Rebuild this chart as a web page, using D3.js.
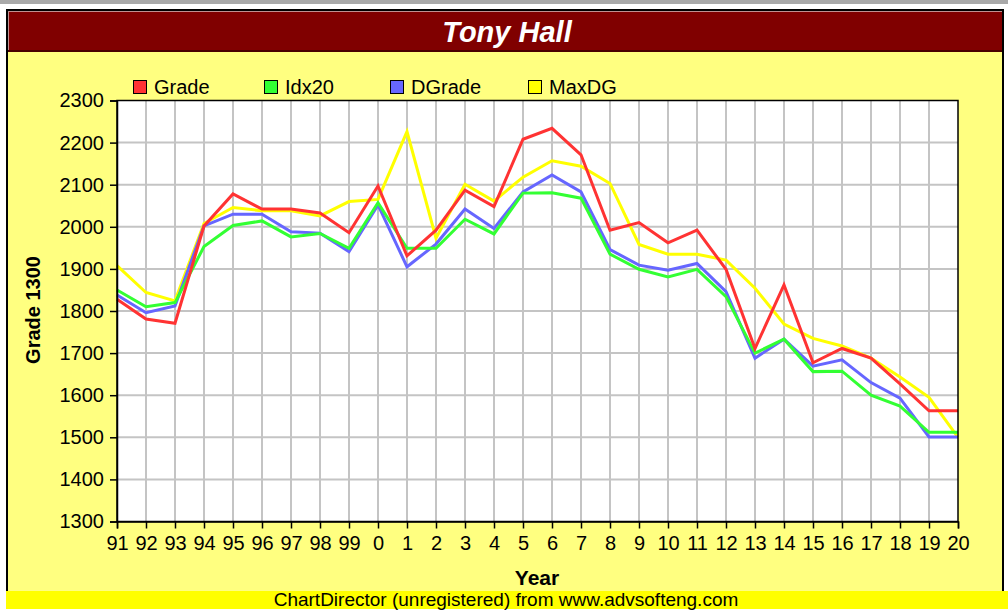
<!DOCTYPE html>
<html>
<head>
<meta charset="utf-8">
<script src="https://cdn.jsdelivr.net/npm/d3@7"></script>
<style>
  body { margin: 0; background: #fff; }
  #chart text { font-family: "Liberation Sans", Arial, sans-serif; }
</style>
</head>
<body>
<div id="chart"></div>
<script>
// data
let years = ['91','92','93','94','95','96','97','98','99','0','1','2','3','4','5','6','7','8','9','10','11','12','13','14','15','16','17','18','19','20'];
let grade  = [1828,1781,1771,2002,2078,2042,2042,2033,1986,2097,1931,1992,2087,2048,2208,2234,2171,1992,2010,1962,1992,1899,1711,1862,1677,1711,1688,1627,1563,1563];
let idx20  = [1850,1810,1820,1953,2003,2014,1976,1984,1949,2057,1949,1949,2018,1983,2080,2081,2068,1935,1899,1881,1899,1834,1700,1733,1656,1657,1600,1574,1512,1512];
let dgrade = [1838,1796,1812,2002,2030,2030,1988,1985,1941,2052,1905,1959,2042,1996,2083,2123,2083,1946,1909,1897,1913,1846,1688,1733,1669,1684,1630,1593,1501,1501];
let maxdg  = [1908,1844,1824,2008,2046,2038,2038,2026,2060,2065,2226,1973,2101,2061,2118,2157,2144,2103,1958,1935,1935,1921,1854,1769,1735,1717,1688,1643,1595,1500];
let seriesNames = ['Grade','Idx20','DGrade','MaxDG'];
let yTicks = [1300,1400,1500,1600,1700,1800,1900,2000,2100,2200,2300];

let colors = ['#ff3333','#33ff33','#6666ff','#ffff00'];
let width = 1008, height = 613;
let plotL = 117, plotR = 958, plotT = 100.5, plotB = 521.5;

function drawChart() {
    let svg = d3.select('#chart').append('svg')
        .attr('width', width)
        .attr('height', height);

    // page frame
    svg.append('rect').attr('x', 0).attr('y', 0).attr('width', width).attr('height', 4).attr('fill', '#a9a9a9');
    svg.append('rect').attr('x', 7).attr('y', 10).attr('width', 996).attr('height', 585)
        .attr('fill', '#ffff80').attr('stroke', '#000').attr('stroke-width', 2);

    // title bar
    svg.append('rect').attr('x', 8).attr('y', 11).attr('width', 994).attr('height', 41).attr('fill', '#800000');
    svg.append('line').attr('x1', 8).attr('x2', 1002).attr('y1', 11.5).attr('y2', 11.5).attr('stroke', '#c09090');
    svg.append('line').attr('x1', 8.5).attr('x2', 8.5).attr('y1', 11).attr('y2', 52).attr('stroke', '#c09090');
    svg.append('line').attr('x1', 8).attr('x2', 1002).attr('y1', 51).attr('y2', 51).attr('stroke', '#4a0000').attr('stroke-width', 2);
    svg.append('text')
        .attr('x', 507).attr('y', 42)
        .attr('text-anchor', 'middle')
        .attr('fill', '#fff')
        .style('font-size', '29px').style('font-weight', 'bold').style('font-style', 'italic')
        .text('Tony Hall');

    let x = d3.scalePoint().domain(years).range([plotL, plotR]);
    let y = d3.scaleLinear().domain([1300, 2300]).range([plotB, plotT]);

    // plot background + grid
    svg.append('rect')
        .attr('x', plotL).attr('y', plotT)
        .attr('width', plotR - plotL).attr('height', plotB - plotT)
        .attr('fill', '#fff');

    let grid = svg.append('g').attr('stroke', '#c4c4c4').attr('stroke-width', 2);
    grid.selectAll('.vg').data(years.slice(1, -1)).enter().append('line')
        .attr('x1', d => x(d)).attr('x2', d => x(d))
        .attr('y1', plotT).attr('y2', plotB);
    grid.selectAll('.hg').data(yTicks.slice(1, -1)).enter().append('line')
        .attr('x1', plotL).attr('x2', plotR)
        .attr('y1', d => y(d)).attr('y2', d => y(d));

    // series, MaxDG at the back and Grade on top
    let line = d3.line().x((d, i) => x(years[i])).y(d => y(d));
    let allSeries = [grade, idx20, dgrade, maxdg];
    [3, 2, 1, 0].forEach(function(k) {
        svg.append('path')
            .datum(allSeries[k])
            .attr('d', line)
            .attr('fill', 'none')
            .attr('stroke', colors[k])
            .attr('stroke-width', 3)
            .attr('stroke-linejoin', 'miter');
    });

    // plot border
    svg.append('rect')
        .attr('x', plotL).attr('y', plotT)
        .attr('width', plotR - plotL).attr('height', plotB - plotT)
        .attr('fill', 'none').attr('stroke', '#000').attr('stroke-width', 1.5);

    // axes
    let yAxis = svg.append('g')
        .attr('transform', 'translate(' + plotL + ',0)')
        .call(d3.axisLeft(y).tickValues(yTicks).tickSize(7).tickPadding(6).tickFormat(d3.format('d')));
    let xAxis = svg.append('g')
        .attr('transform', 'translate(0,' + plotB + ')')
        .call(d3.axisBottom(x).tickSize(7).tickPadding(7));
    [yAxis, xAxis].forEach(function(a) {
        a.select('.domain').attr('stroke', '#000').attr('stroke-width', 1.5);
        a.selectAll('.tick line').attr('stroke', '#000').attr('stroke-width', 1.5);
        a.selectAll('.tick text').attr('fill', '#000').style('font-size', '20px');
    });

    // axis titles
    svg.append('text')
        .attr('transform', 'translate(40,310) rotate(-90)')
        .attr('text-anchor', 'middle')
        .style('font-size', '20px').style('font-weight', 'bold')
        .text('Grade 1300');
    svg.append('text')
        .attr('x', 537).attr('y', 585)
        .attr('text-anchor', 'middle')
        .style('font-size', '21px').style('font-weight', 'bold')
        .text('Year');

    // legend
    let legendX = [133, 264, 390, 528];
    let lg = svg.append('g').selectAll('g').data(seriesNames).enter().append('g')
        .attr('transform', (d, i) => 'translate(' + legendX[i] + ',80)');
    lg.append('rect')
        .attr('x', 0.5).attr('y', 0.5).attr('width', 13).attr('height', 13)
        .attr('fill', (d, i) => colors[i]).attr('stroke', '#000');
    lg.append('text')
        .attr('x', 21).attr('y', 14)
        .style('font-size', '20px')
        .text(d => d);

    // footer
    svg.append('rect').attr('x', 6).attr('y', 591).attr('width', 1002).attr('height', 18).attr('fill', '#ffff00');
    svg.append('text')
        .attr('x', 506).attr('y', 606)
        .attr('text-anchor', 'middle')
        .style('font-size', '19px')
        .text('ChartDirector (unregistered) from www.advsofteng.com');
}

drawChart();
</script>
</body>
</html>
